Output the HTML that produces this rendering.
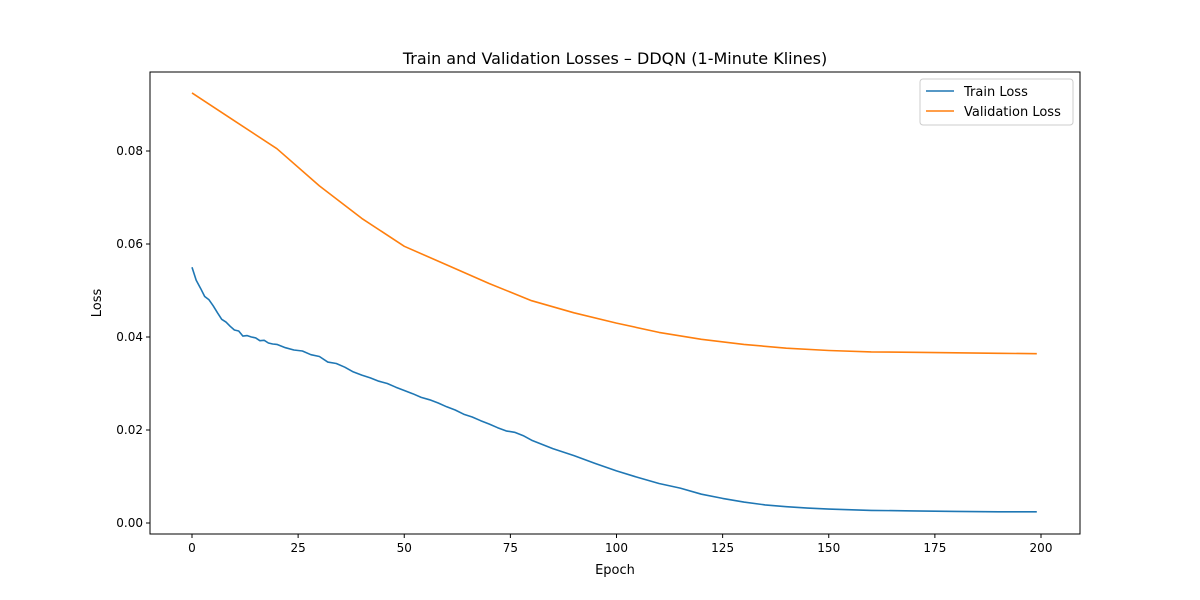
<!DOCTYPE html>
<html><head><meta charset="utf-8"><style>body{margin:0;background:#fff}svg{display:block;font-family:"DejaVu Sans","Liberation Sans",sans-serif}</style></head>
<body>
<svg id="c" width="1200" height="600"></svg>
<script>
const trainEpochs=[0,1,2,3,4,5,6,7,8,9,10,11,12,13,14,15,16,17,18,19,20,22,24,26,28,30,32,34,36,38,40,42,44,46,48,50,52,54,56,58,60,62,64,66,68,70,72,74,76,78,80,85,90,95,100,105,110,115,120,125,130,135,140,145,150,160,170,180,190,199];
const trainLoss=[0.055,0.0522,0.0505,0.0487,0.048,0.0467,0.0452,0.0438,0.0432,0.0423,0.0415,0.0413,0.0402,0.0403,0.0400,0.0398,0.0392,0.0393,0.0387,0.0385,0.0384,0.0377,0.0372,0.0370,0.0362,0.0358,0.0346,0.0343,0.0335,0.0325,0.0318,0.0312,0.0305,0.0300,0.0292,0.0285,0.0278,0.0270,0.0265,0.0258,0.0250,0.0243,0.0234,0.0228,0.0220,0.0213,0.0205,0.0198,0.0195,0.0188,0.0178,0.016,0.0145,0.0128,0.0112,0.0098,0.0085,0.0075,0.0062,0.0053,0.0045,0.0039,0.0035,0.0032,0.0030,0.0027,0.0026,0.0025,0.0024,0.0024];
const valEpochs=[0,10,20,30,40,50,60,70,80,90,100,110,120,130,140,150,160,170,180,190,199];
const valLoss=[0.0925,0.0865,0.0805,0.0725,0.0655,0.0595,0.0555,0.0515,0.0478,0.0452,0.043,0.041,0.0395,0.0384,0.0376,0.0371,0.0368,0.0367,0.0366,0.0365,0.0364];
const xTicks=[0,25,50,75,100,125,150,175,200];
const yTicks=[0,0.02,0.04,0.06,0.08];
const yLabels=["0.00","0.02","0.04","0.06","0.08"];
const L=150,R=1080,T=72,B=534;
const X=e=>192+e*(1041-192)/200;
const Y=v=>523-v*(523-151)/0.08;
const svg=document.getElementById('c');
const NS='http://www.w3.org/2000/svg';
function mk(tag,attrs,parent){const el=document.createElementNS(NS,tag);for(const k in attrs)el.setAttribute(k,attrs[k]);(parent||svg).appendChild(el);return el;}
let frame=mk('rect',{x:L,y:T,width:R-L,height:B-T,fill:'none',stroke:'#000','stroke-width':1});


xTicks.forEach(t=>{const x=X(t);
 let l=mk('line',{x1:x,x2:x,y1:B,y2:B+4,stroke:'#000'});
 
 
 let tx=mk('text',{x:x,y:B+18,'text-anchor':'middle','font-size':12});tx.textContent=t;
 
 });
yTicks.forEach((t,i)=>{const y=Y(t);
 let l=mk('line',{x1:L-4,x2:L,y1:y,y2:y,stroke:'#000'});
 
 
 let tx=mk('text',{x:L-7,y:y+4,'text-anchor':'end','font-size':12});tx.textContent=yLabels[i];
 
 });
function line(xs,ys,color,name){const d=xs.map((e,i)=>(i?'L':'M')+X(e).toFixed(1)+','+Y(ys[i]).toFixed(1)).join('');
 const p=mk('path',{d:d,fill:'none',stroke:color,'stroke-width':1.6,'stroke-linejoin':'round'});
 
 }
line(trainEpochs,trainLoss,'#1f77b4','train-loss-line');
line(valEpochs,valLoss,'#ff7f0e','validation-loss-line');
let title=mk('text',{x:615,y:64,'text-anchor':'middle','font-size':16});title.textContent='Train and Validation Losses – DDQN (1-Minute Klines)';


let xt=mk('text',{x:615,y:574,'text-anchor':'middle','font-size':13});xt.textContent='Epoch';


let yt=mk('text',{x:101,y:303,'text-anchor':'middle','font-size':13,transform:'rotate(-90 101 303)'});yt.textContent='Loss';


let lg=mk('g',{});


mk('rect',{x:920,y:79,width:153,height:46,rx:3,fill:'#fff',stroke:'#ccc'},lg);
[['Train Loss','#1f77b4',91],['Validation Loss','#ff7f0e',111]].forEach(([n,c,y])=>{
 mk('line',{x1:926,x2:954,y1:y,y2:y,stroke:c,'stroke-width':1.6},lg);
 let t=mk('text',{x:964,y:y+5,'font-size':13},lg);t.textContent=n;
 
 });
</script>
</body></html>
